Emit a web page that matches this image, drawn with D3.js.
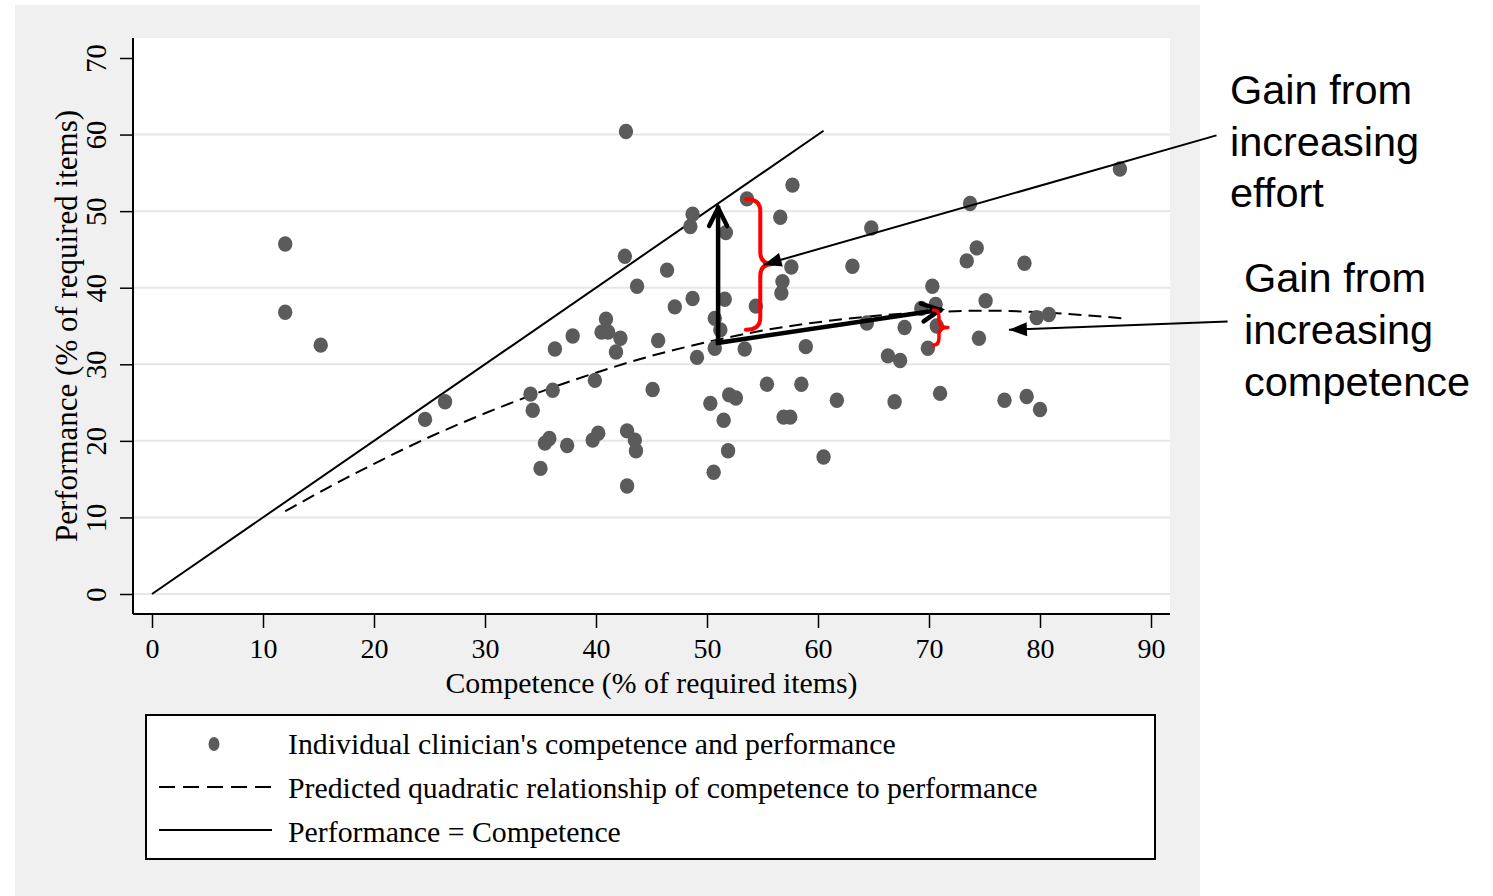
<!DOCTYPE html>
<html>
<head>
<meta charset="utf-8">
<script src="https://cdn.jsdelivr.net/npm/d3@7"></script>
<style>
  html, body { margin: 0; padding: 0; background: #ffffff; }
  svg { display: block; }
</style>
</head>
<body>
<svg id="chart" width="1493" height="896"></svg>
<script>
// ---------------- DATA ----------------
const competence = [12.0, 12.0, 15.2, 24.6, 26.4, 34.1, 34.3, 36.1, 35.0, 35.4, 35.8, 37.4, 36.3, 37.9, 39.9, 39.7, 40.2, 40.9, 40.5, 41.1,
  41.8, 42.2, 42.7, 42.6, 43.7, 42.8, 43.5, 43.6, 42.8, 45.1, 45.6, 46.4, 47.1, 48.7, 48.5, 48.7, 49.1, 50.3, 50.6, 50.7,
  51.2, 50.7, 51.7, 51.6, 52.0, 52.6, 51.5, 51.9, 53.6, 53.4, 54.4, 55.4, 56.6, 56.8, 56.7, 56.9, 57.5, 57.7, 57.6, 58.5,
  58.9, 60.5, 61.7, 63.1, 64.8, 64.4, 66.3, 67.4, 66.9, 67.8, 69.3, 70.3, 70.6, 70.7, 69.9, 71.0, 73.7, 73.4, 74.3, 74.5,
  75.1, 76.8, 78.6, 78.8, 79.7, 80.8, 80.0, 87.2];
const performance = [45.7, 36.8, 32.5, 22.8, 25.1, 26.1, 24.0, 26.6, 16.4, 19.7, 20.3, 19.4, 32.0, 33.7, 27.9, 20.1, 21.0, 35.9, 34.2, 34.2,
  31.6, 33.4, 60.4, 44.1, 40.2, 21.3, 20.1, 18.7, 14.1, 26.7, 33.1, 42.3, 37.5, 38.6, 48.0, 49.6, 30.9, 24.9, 15.9, 36.0,
  34.5, 32.1, 47.2, 38.5, 26.0, 25.6, 22.7, 18.7, 51.6, 32.0, 37.6, 27.4, 49.2, 40.8, 39.3, 23.1, 23.1, 53.4, 42.7, 27.4,
  32.3, 17.9, 25.3, 42.8, 47.8, 35.4, 31.1, 30.5, 25.1, 34.8, 37.3, 40.2, 37.8, 35.0, 32.1, 26.2, 51.0, 43.5, 45.2, 33.4,
  38.3, 25.3, 43.2, 25.8, 36.1, 36.5, 24.1, 55.5];

// predicted quadratic curve
const fitX = [12, 16, 20, 25, 30, 35, 40, 45, 50, 55, 60, 65, 70, 75, 80, 85, 87.5];
const fitY = [10.8, 14.0, 17.0, 20.5, 23.6, 26.4, 28.9, 31.1, 32.9, 34.4, 35.5, 36.3, 36.8, 37.0, 36.8, 36.3, 36.0];

// performance = competence line
const identityX = [0, 60.5];

const xTicks = [0, 10, 20, 30, 40, 50, 60, 70, 80, 90];
const yTicks = [0, 10, 20, 30, 40, 50, 60, 70];
const gridTicks = [0, 10, 20, 30, 40, 50, 60];

const xTitle = "Competence (% of required items)";
const yTitle = "Performance (% of required items)";
const legendLabels = ["Individual clinician's competence and performance",
  "Predicted quadratic relationship of competence to performance",
  "Performance = Competence"];

// annotation arrows (data units)
const effortArrow = [[51, 32.8], [51, 50.4]];
const competenceArrow = [[51, 32.8], [71.0, 37.1]];
// braces: [xLeft, xMid, xTip, yTop, yTip, yBottom]
const bigBrace = [53.5, 54.8, 55.9, 51.6, 43.1, 34.5];
const smallBrace = [70.4, 70.9, 71.7, 37.1, 34.8, 32.5];
// pointer lines from label to brace
const effortPointer = [[95.9, 59.9], [55.1, 43.0]];
const competencePointer = [[96.9, 35.6], [77.2, 34.5]];
const effortText = ["Gain from", "increasing", "effort"];
const competenceText = ["Gain from", "increasing", "competence"];

// ---------------- LAYOUT ----------------
const svg = d3.select("#chart");
const plot = { left: 133, right: 1170, top: 38, bottom: 614 };
const x = d3.scaleLinear().domain([0, 90]).range([152, 1151]);
const y = d3.scaleLinear().domain([0, 70]).range([594, 58]);
const serif = "'Liberation Serif', 'Times New Roman', serif";
const sans = "'Liberation Sans', Arial, sans-serif";

// grey panel
svg.append("rect").attr("x", 15).attr("y", 5).attr("width", 1185).attr("height", 891)
  .attr("fill", "#f0f0f0");
// plot region
svg.append("rect").attr("x", plot.left).attr("y", plot.top)
  .attr("width", plot.right - plot.left).attr("height", plot.bottom - plot.top)
  .attr("fill", "#ffffff");

// gridlines
svg.append("g").selectAll("line").data(gridTicks).join("line")
  .attr("x1", plot.left).attr("x2", plot.right)
  .attr("y1", d => y(d)).attr("y2", d => y(d))
  .attr("stroke", "#e6e6e6").attr("stroke-width", 2);

// axes
const xAxis = svg.append("g").attr("transform", `translate(0,${plot.bottom})`)
  .call(d3.axisBottom(x).tickValues(xTicks).tickSize(14).tickPadding(10).tickFormat(d3.format("d")));
xAxis.select(".domain").remove();
xAxis.selectAll(".tick line").attr("stroke", "#000").attr("stroke-width", 1.5);
xAxis.selectAll(".tick text").attr("font-family", serif).attr("font-size", 28).attr("fill", "#000")
  .attr("dy", null).attr("y", 44);

const yAxis = svg.append("g").attr("transform", `translate(${plot.left},0)`)
  .call(d3.axisLeft(y).tickValues(yTicks).tickSize(13).tickFormat(d3.format("d")));
yAxis.select(".domain").remove();
yAxis.selectAll(".tick line").attr("stroke", "#000").attr("stroke-width", 1.5);
yAxis.selectAll(".tick text").attr("font-family", serif).attr("font-size", 28.5).attr("fill", "#000")
  .attr("x", null).attr("dy", null)
  .attr("text-anchor", "middle")
  .attr("transform", "translate(-27,0) rotate(-90)");

svg.append("line").attr("x1", plot.left).attr("x2", plot.right).attr("y1", plot.bottom).attr("y2", plot.bottom)
  .attr("stroke", "#000").attr("stroke-width", 2);
svg.append("line").attr("x1", plot.left).attr("x2", plot.left).attr("y1", plot.top).attr("y2", plot.bottom)
  .attr("stroke", "#000").attr("stroke-width", 2);

// axis titles
svg.append("text").attr("x", (plot.left + plot.right) / 2).attr("y", 693)
  .attr("text-anchor", "middle").attr("font-family", serif).attr("font-size", 29.8).attr("fill", "#000")
  .text(xTitle);
svg.append("text").attr("transform", `translate(77,${(plot.top + plot.bottom) / 2}) rotate(-90)`)
  .attr("text-anchor", "middle").attr("font-family", serif).attr("font-size", 31).attr("fill", "#000")
  .text(yTitle);

// identity line
svg.append("path").datum(identityX)
  .attr("d", d3.line().x(d => x(d)).y(d => y(d)))
  .attr("fill", "none").attr("stroke", "#000").attr("stroke-width", 2);

// quadratic fit (dashed)
svg.append("path").datum(fitX.map((d, i) => [d, fitY[i]]))
  .attr("d", d3.line().x(d => x(d[0])).y(d => y(d[1])).curve(d3.curveMonotoneX))
  .attr("fill", "none").attr("stroke", "#000").attr("stroke-width", 2)
  .attr("stroke-dasharray", "13,7");

// points
svg.append("g").selectAll("ellipse").data(competence).join("ellipse")
  .attr("cx", d => x(d)).attr("cy", (d, i) => y(performance[i]))
  .attr("rx", 7.2).attr("ry", 7.7)
  .attr("fill", "#5b5b5b");

// ---------- annotations ----------
function chevron(g, p0, p1, len, halfW, width) {
  const ang = Math.atan2(p1[1] - p0[1], p1[0] - p0[0]);
  const bx = p1[0] - len * Math.cos(ang), by = p1[1] - len * Math.sin(ang);
  const nx = -Math.sin(ang) * halfW, ny = Math.cos(ang) * halfW;
  g.append("path")
    .attr("d", `M${bx + nx},${by + ny} L${p1[0]},${p1[1]} L${bx - nx},${by - ny}`)
    .attr("fill", "none").attr("stroke", "#000").attr("stroke-width", width)
    .attr("stroke-linejoin", "miter").attr("stroke-linecap", "round");
}
function filledHead(g, p0, p1, len, halfW) {
  const ang = Math.atan2(p1[1] - p0[1], p1[0] - p0[0]);
  const bx = p1[0] - len * Math.cos(ang), by = p1[1] - len * Math.sin(ang);
  const nx = -Math.sin(ang) * halfW, ny = Math.cos(ang) * halfW;
  g.append("path")
    .attr("d", `M${bx + nx},${by + ny} L${p1[0]},${p1[1]} L${bx - nx},${by - ny} Z`)
    .attr("fill", "#000");
}
const ann = svg.append("g");
const px = p => [x(p[0]), y(p[1])];

// thick black arrows
[effortArrow, competenceArrow].forEach(a => {
  const p0 = px(a[0]), p1 = px(a[1]);
  ann.append("line").attr("x1", p0[0]).attr("y1", p0[1]).attr("x2", p1[0]).attr("y2", p1[1])
    .attr("stroke", "#000").attr("stroke-width", 4.5).attr("stroke-linecap", "square");
  chevron(ann, p0, p1, 18, 9, 4.5);
});

// red braces
function brace(b, w) {
  const xl = x(b[0]), xm = x(b[1]), xt = x(b[2]);
  const yt = y(b[3]), yc = y(b[4]), yb = y(b[5]);
  const r = Math.min(12, (yb - yt) / 5);
  const d = `M${xl},${yt} Q${xm},${yt} ${xm},${yt + r} L${xm},${yc - r} Q${xm},${yc} ${xt},${yc}` +
    ` Q${xm},${yc} ${xm},${yc + r} L${xm},${yb - r} Q${xm},${yb} ${xl},${yb}`;
  ann.append("path").attr("d", d).attr("fill", "none").attr("stroke", "#ff0000")
    .attr("stroke-width", w).attr("stroke-linejoin", "round").attr("stroke-linecap", "round");
}
brace(bigBrace, 4);
brace(smallBrace, 3.5);

// pointer lines with filled heads
[effortPointer, competencePointer].forEach(a => {
  const p0 = px(a[0]), p1 = px(a[1]);
  ann.append("line").attr("x1", p0[0]).attr("y1", p0[1]).attr("x2", p1[0]).attr("y2", p1[1])
    .attr("stroke", "#000").attr("stroke-width", 2);
  filledHead(ann, p0, p1, 18, 7);
});

// annotation labels
const tg = svg.append("g").attr("font-family", sans).attr("font-size", 41.5).attr("fill", "#000");
tg.append("text").selectAll("tspan").data(effortText).join("tspan")
  .attr("x", 1230).attr("y", (d, i) => 104 + i * 51.5).text(d => d);
tg.append("text").selectAll("tspan").data(competenceText).join("tspan")
  .attr("x", 1244).attr("y", (d, i) => 292 + i * 52).text(d => d);

// ---------- legend ----------
const lg = svg.append("g");
lg.append("rect").attr("x", 146).attr("y", 715).attr("width", 1009).attr("height", 144)
  .attr("fill", "#fff").attr("stroke", "#000").attr("stroke-width", 2);
lg.append("ellipse").attr("cx", 214).attr("cy", 744).attr("rx", 5.5).attr("ry", 7).attr("fill", "#5b5b5b");
lg.append("line").attr("x1", 159).attr("x2", 272).attr("y1", 787).attr("y2", 787)
  .attr("stroke", "#000").attr("stroke-width", 2).attr("stroke-dasharray", "16,8");
lg.append("line").attr("x1", 159).attr("x2", 272).attr("y1", 830).attr("y2", 830)
  .attr("stroke", "#000").attr("stroke-width", 2);
lg.selectAll("text.leg").data(legendLabels).join("text").attr("class", "leg")
  .attr("x", 288).attr("y", (d, i) => 754 + i * 44)
  .attr("font-family", serif).attr("font-size", 29.8).attr("fill", "#000")
  .text(d => d);
</script>
</body>
</html>
